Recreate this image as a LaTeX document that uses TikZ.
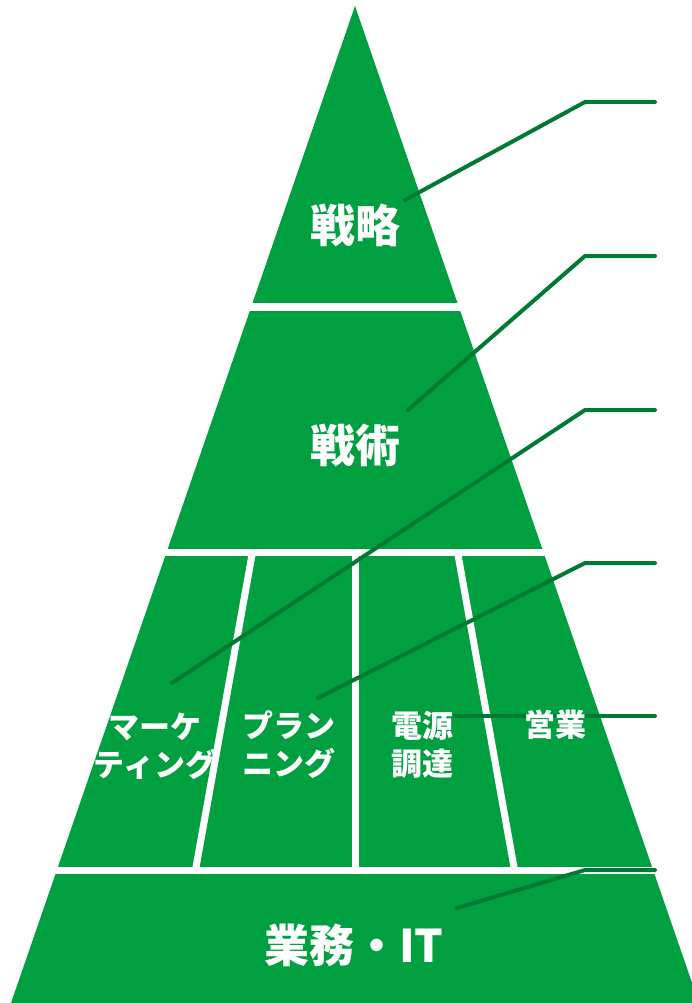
\documentclass[tikz,border=0pt]{standalone}
\usepackage{fontspec}
\newfontfamily\jpfont{Noto Sans CJK JP}
\definecolor{pyrgreen}{RGB}{0,160,64}
\definecolor{leadgreen}{RGB}{0,122,51}
\tikzset{
  band/.style={fill=pyrgreen},
  gap/.style={draw=white,line width=7.5pt},
  divider/.style={draw=white,line width=7pt},
  leader/.style={draw=leadgreen,line width=4pt,line cap=round,line join=round},
  bigtext/.style={text=white,inner sep=0pt,font=\jpfont\bfseries\fontsize{45}{50}\selectfont},
  smalltext/.style={text=white,inner sep=0pt,align=center,font=\jpfont\bfseries\fontsize{31}{38}\selectfont},
}
\begin{document}
\begin{tikzpicture}[x=1pt,y=-1pt]
\useasboundingbox (0,0) rectangle (692,1003);
% 金字塔的顶点
\coordinate (apex) at (355,6);
\coordinate (baseL) at (11,1003);
\coordinate (baseR) at (699,1003);

% 金字塔
\begin{scope}
\clip (0,0) rectangle (692,1003);
\fill[band] (apex) -- (baseL) -- (baseR) -- cycle;
\end{scope}

% 分层的白色间隔
\draw[gap] (0,307) -- (692,307);
\draw[gap] (0,552.5) -- (692,552.5);
\draw[gap] (0,870.5) -- (692,870.5);

% 中间层的文字
\node[smalltext] (mkt) at (155,746) {マーケ\\ティング};
\node[smalltext] (plan) at (289,745) {プラン\\ニング};
\node[smalltext] (power) at (422,745) {電源\\調達};

% 竖向分隔线
\coordinate (d1t) at (252.5,552); \coordinate (d1b) at (195.5,870);
\coordinate (d2t) at (355,552);   \coordinate (d2b) at (355,870);
\coordinate (d3t) at (457.5,552); \coordinate (d3b) at (514.5,870);
\draw[divider] (d1t) -- (d1b);
\draw[divider] (d2t) -- (d2b);
\draw[divider] (d3t) -- (d3b);

% 引线
\coordinate (s1) at (405,200); \coordinate (k1) at (585,102); \coordinate (e1) at (655,102);
\coordinate (s2) at (408,410); \coordinate (k2) at (585,256); \coordinate (e2) at (655,256);
\coordinate (s3) at (172,683); \coordinate (k3) at (585,410); \coordinate (e3) at (655,410);
\coordinate (s4) at (318,698); \coordinate (k4) at (585,563); \coordinate (e4) at (655,563);
\coordinate (s5) at (455,716); \coordinate (e5) at (655,716);
\coordinate (s6) at (457,908); \coordinate (k6) at (585,870); \coordinate (e6) at (655,870);
\draw[leader] (s1) -- (k1) -- (e1);
\draw[leader] (s2) -- (k2) -- (e2);
\draw[leader] (s3) -- (k3) -- (e3);
\draw[leader] (s4) -- (k4) -- (e4);
\draw[leader] (s5) -- (e5);
\draw[leader] (s6) -- (k6) -- (e6);

% 各层的名称
\node[smalltext] (sales) at (555,725) {営業};
\node[bigtext] (strategy) at (355,225) {戦略};
\node[bigtext] (tactics) at (355,445) {戦術};
\node[bigtext] (ops) at (354,945) {業務・IT};
\end{tikzpicture}
\end{document}
